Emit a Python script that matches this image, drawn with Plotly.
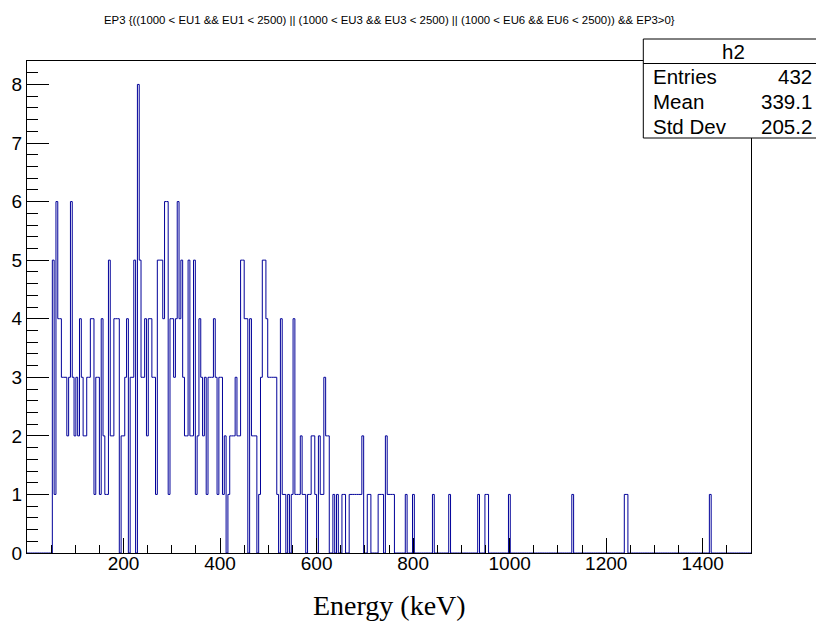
import numpy as np
import plotly.graph_objects as go

# ---------------- data ----------------
x_min, x_max, n_bins = 0.0, 1500.0, 400          # histogram axis (keV)
main_start = 52.5                                 # low edge of first listed bin
main_counts = [
    5, 1, 6, 4, 4, 3, 3, 3, 2, 3, 6, 3, 2, 3, 2, 4, 3, 2, 2, 3,
    3, 4, 4, 1, 3, 3, 1, 4, 2, 1, 1, 5, 2, 2, 4, 4, 4, 0, 2, 2,
    3, 4, 0, 3, 3, 5, 0, 8, 5, 3, 3, 4, 2, 4, 4, 3, 3, 1, 5, 5,
    5, 4, 6, 6, 1, 4, 4, 3, 4, 6, 4, 5, 3, 2, 2, 5, 2, 2, 5, 1,
    2, 4, 3, 2, 3, 1, 3, 3, 3, 4, 3, 1, 3, 3, 1, 2, 0, 1, 2, 2,
    2, 3, 2, 2, 5, 5, 4, 4, 0, 4, 2, 2, 2, 0, 1, 3, 5, 5, 4, 3,
    3, 3, 3, 3, 1, 0, 4, 1, 1, 0, 1, 0, 1, 4, 1, 1, 1, 2, 1, 1,
    0, 1, 1, 2, 2, 1, 0, 2, 1, 1, 3, 2, 2, 0, 0, 1, 0, 1, 0, 0,
    1, 1, 0, 0, 1, 1, 1, 1, 1, 1, 1, 2, 0, 0, 1, 1, 0, 0, 0, 0,
    1, 1, 1, 0, 2, 1, 1, 1, 1,
]
tail_edges = [783.75, 798.75, 840.0, 873.75, 933.75, 948.75, 952.5,
              997.5, 1128.75, 1237.5, 1241.25, 1413.75]
tail_counts = [1, 1, 1, 1, 1, 1, 1, 1, 1, 1, 1, 1]

x_major_ticks = [200, 400, 600, 800, 1000, 1200, 1400]
x_minor_ticks = [v for v in range(50, 1500, 50) if v % 200 != 0]
y_major_ticks = [0, 1, 2, 3, 4, 5, 6, 7, 8]
y_minor_ticks = [round(v * 0.2, 1) for v in range(0, 43) if v % 5 != 0]
y_range = [0, 8.4]

title_text = ("EP3 {((1000 < EU1 && EU1 < 2500) || (1000 < EU3 && EU3 < 2500) || "
              "(1000 < EU6 && EU6 < 2500)) && EP3>0}")
x_title = "Energy (keV)"
stats_name = "h2"
stats_labels = ["Entries", "Mean", "Std Dev"]
stats_values = ["432", "339.1", "205.2"]

# ---------------- build histogram ----------------
bw = (x_max - x_min) / n_bins
counts = np.zeros(n_bins)
i0 = int(round((main_start - x_min) / bw))
counts[i0:i0 + len(main_counts)] = main_counts
for e, c in zip(tail_edges, tail_counts):
    counts[int(round((e - x_min) / bw))] = c
edges = x_min + bw * np.arange(n_bins + 1)
ys = np.append(counts, counts[-1])

fig = go.Figure()
fig.add_trace(go.Scatter(x=edges, y=ys, mode="lines", line_shape="hv",
                         line=dict(color="#000099", width=1),
                         hoverinfo="skip", showlegend=False))

# ---------------- layout ----------------
W, H = 816, 621
ML, MR, MT, MB = 25, 65, 61, 68
PW, PH = W - ML - MR, H - MT - MB


def px(xp):
    return (xp - ML) / PW


def py(yp):
    return (H - MB - yp) / PH


fig.update_layout(
    width=W, height=H,
    margin=dict(l=ML, r=MR, t=MT, b=MB, pad=0),
    plot_bgcolor="white", paper_bgcolor="white",
    font=dict(family="Liberation Sans, Arial, sans-serif", color="black"),
    showlegend=False,
)
fig.update_xaxes(
    range=[x_min, x_max], tickmode="array", tickvals=x_major_ticks,
    ticktext=[str(v) for v in x_major_ticks],
    ticks="inside", ticklen=15, tickwidth=1, tickcolor="black",
    tickfont=dict(size=19, color="black"), ticklabelstandoff=-7,
    showline=True, linecolor="black", linewidth=1, mirror=True,
    showgrid=False, zeroline=False,
    minor=dict(tickmode="array", tickvals=x_minor_ticks, ticks="inside",
               ticklen=8, tickwidth=1, tickcolor="black", showgrid=False),
)
fig.update_yaxes(
    range=y_range, tickmode="array", tickvals=y_major_ticks,
    ticktext=[str(v) for v in y_major_ticks],
    ticks="inside", ticklen=22, tickwidth=1, tickcolor="black",
    tickfont=dict(size=19, color="black"),
    showline=True, linecolor="black", linewidth=1, mirror=True,
    showgrid=False, zeroline=False,
    minor=dict(tickmode="array", tickvals=y_minor_ticks, ticks="inside",
               ticklen=11, tickwidth=1, tickcolor="black", showgrid=False),
)

shapes = [
    dict(type="rect", xref="paper", yref="paper", x0=px(643), x1=px(822),
         y0=py(39), y1=py(138), line=dict(color="black", width=1),
         fillcolor="white", layer="above"),
    dict(type="line", xref="paper", yref="paper", x0=px(643), x1=px(822),
         y0=py(63.5), y1=py(63.5), line=dict(color="black", width=1),
         layer="above"),
]
fig.update_layout(shapes=shapes)

ann = [
    dict(text=title_text, x=px(388), y=py(20), xref="paper", yref="paper",
         showarrow=False, xanchor="center", yanchor="middle",
         font=dict(size=11.4, color="black")),
    dict(text=x_title, x=px(388), y=py(605), xref="paper", yref="paper",
         showarrow=False, xanchor="center", yanchor="middle",
         font=dict(size=28, family="Liberation Serif, Times New Roman, serif",
                   color="black")),
    dict(text=stats_name, x=px(733), y=py(51.5), xref="paper", yref="paper",
         showarrow=False, xanchor="center", yanchor="middle",
         font=dict(size=20.5, color="black")),
]
row_y = [76.5, 101.5, 126.5]
for lab, val, yy in zip(stats_labels, stats_values, row_y):
    ann.append(dict(text=lab, x=px(651), y=py(yy), xref="paper", yref="paper",
                    showarrow=False, xanchor="left", yanchor="middle",
                    font=dict(size=20.5, color="black")))
    ann.append(dict(text=val, x=px(814), y=py(yy), xref="paper", yref="paper",
                    showarrow=False, xanchor="right", yanchor="middle",
                    font=dict(size=20.5, color="black")))
fig.update_layout(annotations=ann)

fig.write_html(
    "out.html",
    config={"displayModeBar": False},
    post_script="document.body.style.margin='0';document.body.style.overflow='hidden';",
)
